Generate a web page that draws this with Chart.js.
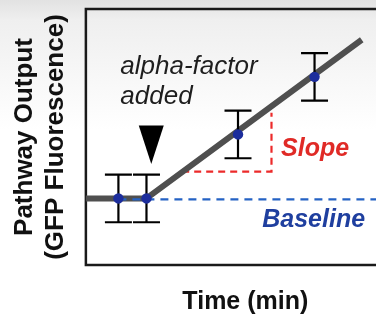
<!DOCTYPE html>
<html>
<head>
<meta charset="utf-8">
<script src="https://cdn.jsdelivr.net/npm/chart.js@4.4.0/dist/chart.umd.min.js"></script>
<style>
    html, body {
        margin: 0;
        padding: 0;
        overflow: hidden;
        background: linear-gradient(to bottom, #e2e2e2 0px, #efefef 20px, #ffffff 130px);
    }
    #wrap {
        width: 376px;
        height: 321px;
        overflow: hidden;
    }
</style>
</head>
<body>
<div id="wrap">
    <canvas id="pathwayChart" width="410" height="321"></canvas>
</div>
<script>
// Measured time points (arbitrary units along the time axis)
const timePoints = [10.2, 19, 47.7, 71.7];
const outputValues = [26, 26, 51, 73.5];
const errorValues = [9.3, 9.3, 9.3, 9.3];

// Fitted response: flat baseline, then linear rise after alpha-factor
const fitTime = [0, 19, 86.5];
const fitOutput = [26, 26, 88];

// Slope guide (red) and baseline guide (blue)
const slopeTime = [30.2, 58.2, 58.2];
const slopeOutput = [36.5, 36.5, 59.5];
const baselineTime = [10.2, 100];
const baselineOutput = [25.6, 25.6];

// Annotations
const addedAt = { x: 20.5, top: 54.5, tip: 39.5 };
const labels = [
    { text: 'alpha-factor', x: 10.8, y: 74.5, color: '#1e1e1e', font: 'italic 26px "Liberation Sans", Arial, sans-serif' },
    { text: 'added', x: 10.8, y: 62.8, color: '#1e1e1e', font: 'italic 26px "Liberation Sans", Arial, sans-serif' },
    { text: 'Slope', x: 61.2, y: 42.6, color: '#e02a26', font: 'italic bold 25px "Liberation Sans", Arial, sans-serif' },
    { text: 'Baseline', x: 55.3, y: 14.7, color: '#1f3f9f', font: 'italic bold 25px "Liberation Sans", Arial, sans-serif' }
];

function toPoints(xs, ys) {
    return xs.map((x, i) => ({ x: x, y: ys[i] }));
}

// Plot frame, error bars, arrow and text labels
const extrasPlugin = {
    id: 'extras',
    beforeDatasetsDraw(chart) {
        const { ctx, chartArea } = chart;
        ctx.save();
        ctx.strokeStyle = '#1a1a1a';
        ctx.lineWidth = 2.5;
        ctx.strokeRect(chartArea.left, chartArea.top, chartArea.right - chartArea.left, chartArea.bottom - chartArea.top);
        ctx.restore();
    },
    afterDatasetDraw(chart, args) {
        if (args.index !== 2) return;
        const { ctx } = chart;
        const xs = chart.scales.x;
        const ys = chart.scales.y;
        ctx.save();
        ctx.strokeStyle = '#000';
        ctx.lineWidth = 2.2;
        timePoints.forEach((t, i) => {
            const px = xs.getPixelForValue(t);
            const top = ys.getPixelForValue(outputValues[i] + errorValues[i]);
            const bot = ys.getPixelForValue(outputValues[i] - errorValues[i]);
            ctx.beginPath();
            ctx.moveTo(px, top);
            ctx.lineTo(px, bot);
            ctx.moveTo(px - 13.5, top);
            ctx.lineTo(px + 13.5, top);
            ctx.moveTo(px - 13.5, bot);
            ctx.lineTo(px + 13.5, bot);
            ctx.stroke();
        });
        ctx.restore();
    },
    afterDraw(chart) {
        const { ctx } = chart;
        const xs = chart.scales.x;
        const ys = chart.scales.y;
        ctx.save();
        // arrow marking alpha-factor addition
        const ax = xs.getPixelForValue(addedAt.x);
        const aTop = ys.getPixelForValue(addedAt.top);
        const aTip = ys.getPixelForValue(addedAt.tip);
        ctx.fillStyle = '#000';
        ctx.beginPath();
        ctx.moveTo(ax - 12.5, aTop);
        ctx.lineTo(ax + 12.5, aTop);
        ctx.lineTo(ax, aTip);
        ctx.closePath();
        ctx.fill();
        // labels
        ctx.textAlign = 'left';
        ctx.textBaseline = 'alphabetic';
        labels.forEach(l => {
            ctx.font = l.font;
            ctx.fillStyle = l.color;
            ctx.fillText(l.text, xs.getPixelForValue(l.x), ys.getPixelForValue(l.y));
        });
        ctx.restore();
    }
};

const ctx = document.getElementById('pathwayChart');

new Chart(ctx, {
    type: 'scatter',
    data: {
        datasets: [
            {
                label: 'Measurements',
                data: toPoints(timePoints, outputValues),
                backgroundColor: '#1c2d9c',
                borderColor: '#1c2d9c',
                pointRadius: 5.2,
                pointBorderWidth: 0,
                showLine: false
            },
            {
                label: 'Baseline',
                data: toPoints(baselineTime, baselineOutput),
                showLine: true,
                borderColor: '#2462c4',
                borderWidth: 2.2,
                borderDash: [8, 6],
                pointRadius: 0,
                fill: false
            },
            {
                label: 'Fit',
                data: toPoints(fitTime, fitOutput),
                showLine: true,
                borderColor: '#4f4f4f',
                borderWidth: 6,
                borderCapStyle: 'butt',
                borderJoinStyle: 'round',
                pointRadius: 0,
                tension: 0,
                fill: false,
                clip: false
            },
            {
                label: 'Slope',
                data: toPoints(slopeTime, slopeOutput),
                showLine: true,
                borderColor: '#ec2a2a',
                borderWidth: 2.2,
                borderDash: [7, 5],
                pointRadius: 0,
                fill: false
            }
        ]
    },
    options: {
        responsive: false,
        animation: false,
        layout: {
            padding: { top: 9, right: 2, bottom: 0, left: 0 }
        },
        plugins: {
            legend: { display: false },
            tooltip: { enabled: false }
        },
        scales: {
            x: {
                min: 0,
                max: 100,
                grid: { display: false, drawTicks: false },
                border: { display: false },
                ticks: { display: false },
                title: {
                    display: true,
                    text: 'Time (min)',
                    color: '#111',
                    font: { family: '"Liberation Sans", Arial, sans-serif', size: 25, weight: 'bold', lineHeight: 1.2 },
                    padding: { top: 22, bottom: 4 }
                }
            },
            y: {
                min: 0,
                max: 100,
                grid: { display: false, drawTicks: false },
                border: { display: false },
                ticks: { display: false },
                title: {
                    display: true,
                    text: ['Pathway Output', '(GFP Fluorescence)'],
                    color: '#111',
                    font: { family: '"Liberation Sans", Arial, sans-serif', size: 26, weight: 'bold', lineHeight: 1.19 },
                    padding: { top: 9, bottom: 15 }
                }
            }
        }
    },
    plugins: [extrasPlugin]
});
</script>
</body>
</html>
